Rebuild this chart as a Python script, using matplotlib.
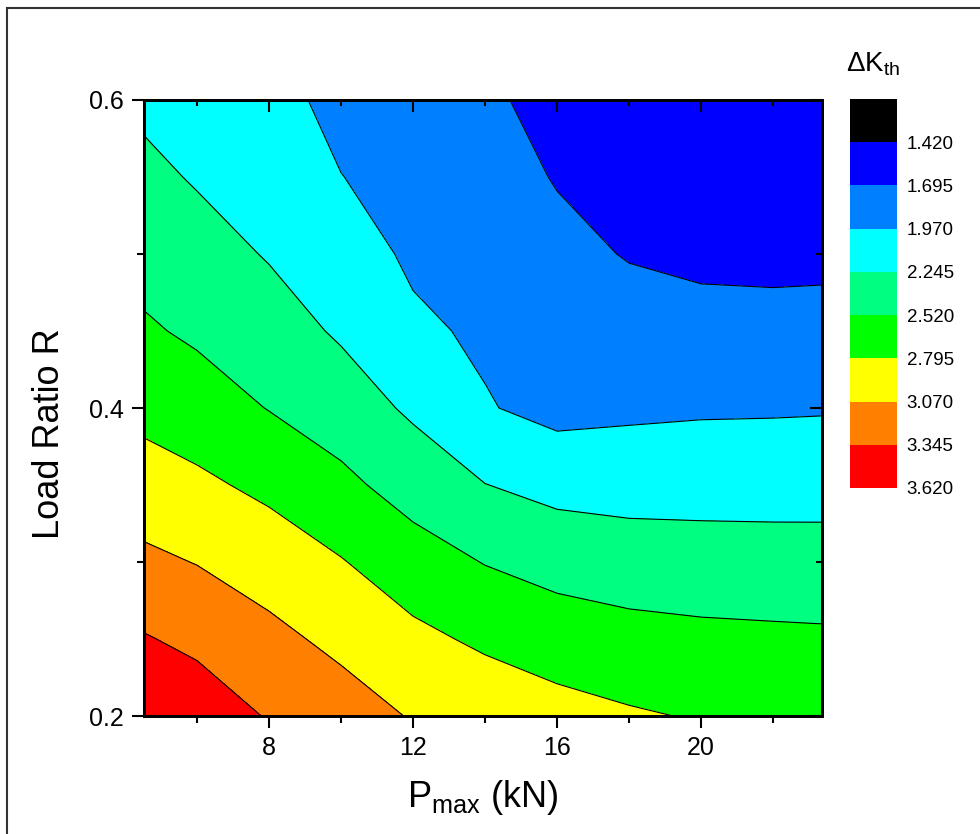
import numpy as np
from matplotlib import pyplot as plt
from matplotlib.colors import ListedColormap, BoundaryNorm
from matplotlib.ticker import MultipleLocator

plt.rcParams['font.family'] = ['Liberation Sans', 'DejaVu Sans']
plt.rcParams['mathtext.default'] = 'regular'

# grid: Pmax (kN) columns, load ratio R rows
pmax = [4.53, 6, 8, 10, 12, 14, 16, 18, 20, 22, 23.36]
ratio = [0.20, 0.25, 0.30, 0.35, 0.40, 0.45, 0.50, 0.55, 0.60]
dk_th = [
    [3.580, 3.505, 3.326, 3.198, 3.051, 2.978, 2.891, 2.825, 2.776, 2.757, 2.750],
    [3.364, 3.283, 3.141, 3.004, 2.860, 2.748, 2.662, 2.610, 2.582, 2.569, 2.561],
    [3.127, 3.061, 2.945, 2.810, 2.641, 2.510, 2.423, 2.380, 2.364, 2.356, 2.352],
    [2.912, 2.847, 2.735, 2.584, 2.408, 2.250, 2.163, 2.142, 2.142, 2.142, 2.145],
    [2.721, 2.648, 2.511, 2.381, 2.202, 1.990, 1.887, 1.920, 1.939, 1.944, 1.950],
    [2.554, 2.477, 2.362, 2.212, 2.020, 1.927, 1.855, 1.807, 1.782, 1.779, 1.784],
    [2.426, 2.349, 2.227, 2.102, 1.925, 1.868, 1.767, 1.680, 1.640, 1.630, 1.635],
    [2.308, 2.222, 2.146, 1.975, 1.870, 1.809, 1.679, 1.600, 1.580, 1.575, 1.580],
    [2.191, 2.095, 2.065, 1.890, 1.830, 1.750, 1.591, 1.540, 1.520, 1.520, 1.525],
]

levels = [1.420, 1.695, 1.970, 2.245, 2.520, 2.795, 3.070, 3.345, 3.620]
fill_colors = ['#0000ff', '#0080ff', '#00ffff', '#00ff80',
               '#00ff00', '#ffff00', '#ff8000', '#ff0000']

fig = plt.figure(figsize=(9.8, 8.34), dpi=100)

# thin frame round the picture (only top and left edges fall inside)
fig.add_artist(plt.Rectangle((7 / 980, -0.1), 1.1, 1.1 - 8 / 834,
                             transform=fig.transFigure, fill=False,
                             edgecolor='#333333', linewidth=1.5))

ax = fig.add_axes([144 / 980, 118 / 834, 678 / 980, 616 / 834])

cmap = ListedColormap(fill_colors)
cmap.set_under('black')
norm = BoundaryNorm(levels, cmap.N)

cs = ax.contourf(pmax, ratio, dk_th, levels=levels, cmap=cmap, norm=norm, extend='min')
ax.contour(pmax, ratio, dk_th, levels=levels, colors='black', linewidths=0.8)

ax.set_xlim(pmax[0], pmax[-1])
ax.set_ylim(0.2, 0.6)
ax.xaxis.set_major_locator(MultipleLocator(4))
ax.xaxis.set_minor_locator(MultipleLocator(2))
ax.yaxis.set_major_locator(MultipleLocator(0.2))
ax.yaxis.set_minor_locator(MultipleLocator(0.1))
ax.xaxis.set_major_formatter(lambda v, p: '%d' % round(v))
ax.yaxis.set_major_formatter(lambda v, p: '%.1f' % v)

for s in ax.spines.values():
    s.set_linewidth(2.0)

ax.tick_params(which='both', direction='out', width=1.5, labelsize=18, pad=6)
ax.tick_params(which='major', length=8.5)
ax.tick_params(which='minor', length=5)

# top and right ticks point inward (twin axes so they sit above the fill)
tx = ax.twiny()
tx.set_xlim(ax.get_xlim())
tx.xaxis.set_major_locator(MultipleLocator(4))
tx.xaxis.set_minor_locator(MultipleLocator(2))
tx.tick_params(which='both', direction='in', width=1.5, labeltop=False)
tx.tick_params(which='major', length=8.5)
tx.tick_params(which='minor', length=4.5)
ty = ax.twinx()
ty.set_ylim(ax.get_ylim())
ty.yaxis.set_major_locator(MultipleLocator(0.2))
ty.yaxis.set_minor_locator(MultipleLocator(0.1))
ty.tick_params(which='both', direction='in', width=1.5, labelright=False)
ty.tick_params(which='major', length=8.5)
ty.tick_params(which='minor', length=4.5)
for tw in (tx, ty):
    for s in tw.spines.values():
        s.set_linewidth(2.0)

ax.set_xlabel('P$_{max}$ (kN)', fontsize=26)
ax.set_ylabel('Load Ratio R', fontsize=26)
ax.xaxis.set_label_coords(0.5, -0.1)
ax.yaxis.set_label_coords(-0.114, 0.459)

# colour scale, low values at the top
cax = fig.add_axes([850 / 980, 346 / 834, 47 / 980, 389 / 834])
cb = fig.colorbar(cs, cax=cax, extend='min', extendrect=True, extendfrac=0.125,
                  ticks=levels, format='%.3f')
cax.invert_yaxis()
cb.outline.set_visible(False)
cax.tick_params(length=0, labelsize=13.5, pad=7)
fig.text(846 / 980, 1 - 64 / 834, '\u0394K$_{th}$', fontsize=20, ha='left', va='center')

fig.savefig('out.png', dpi=100)
